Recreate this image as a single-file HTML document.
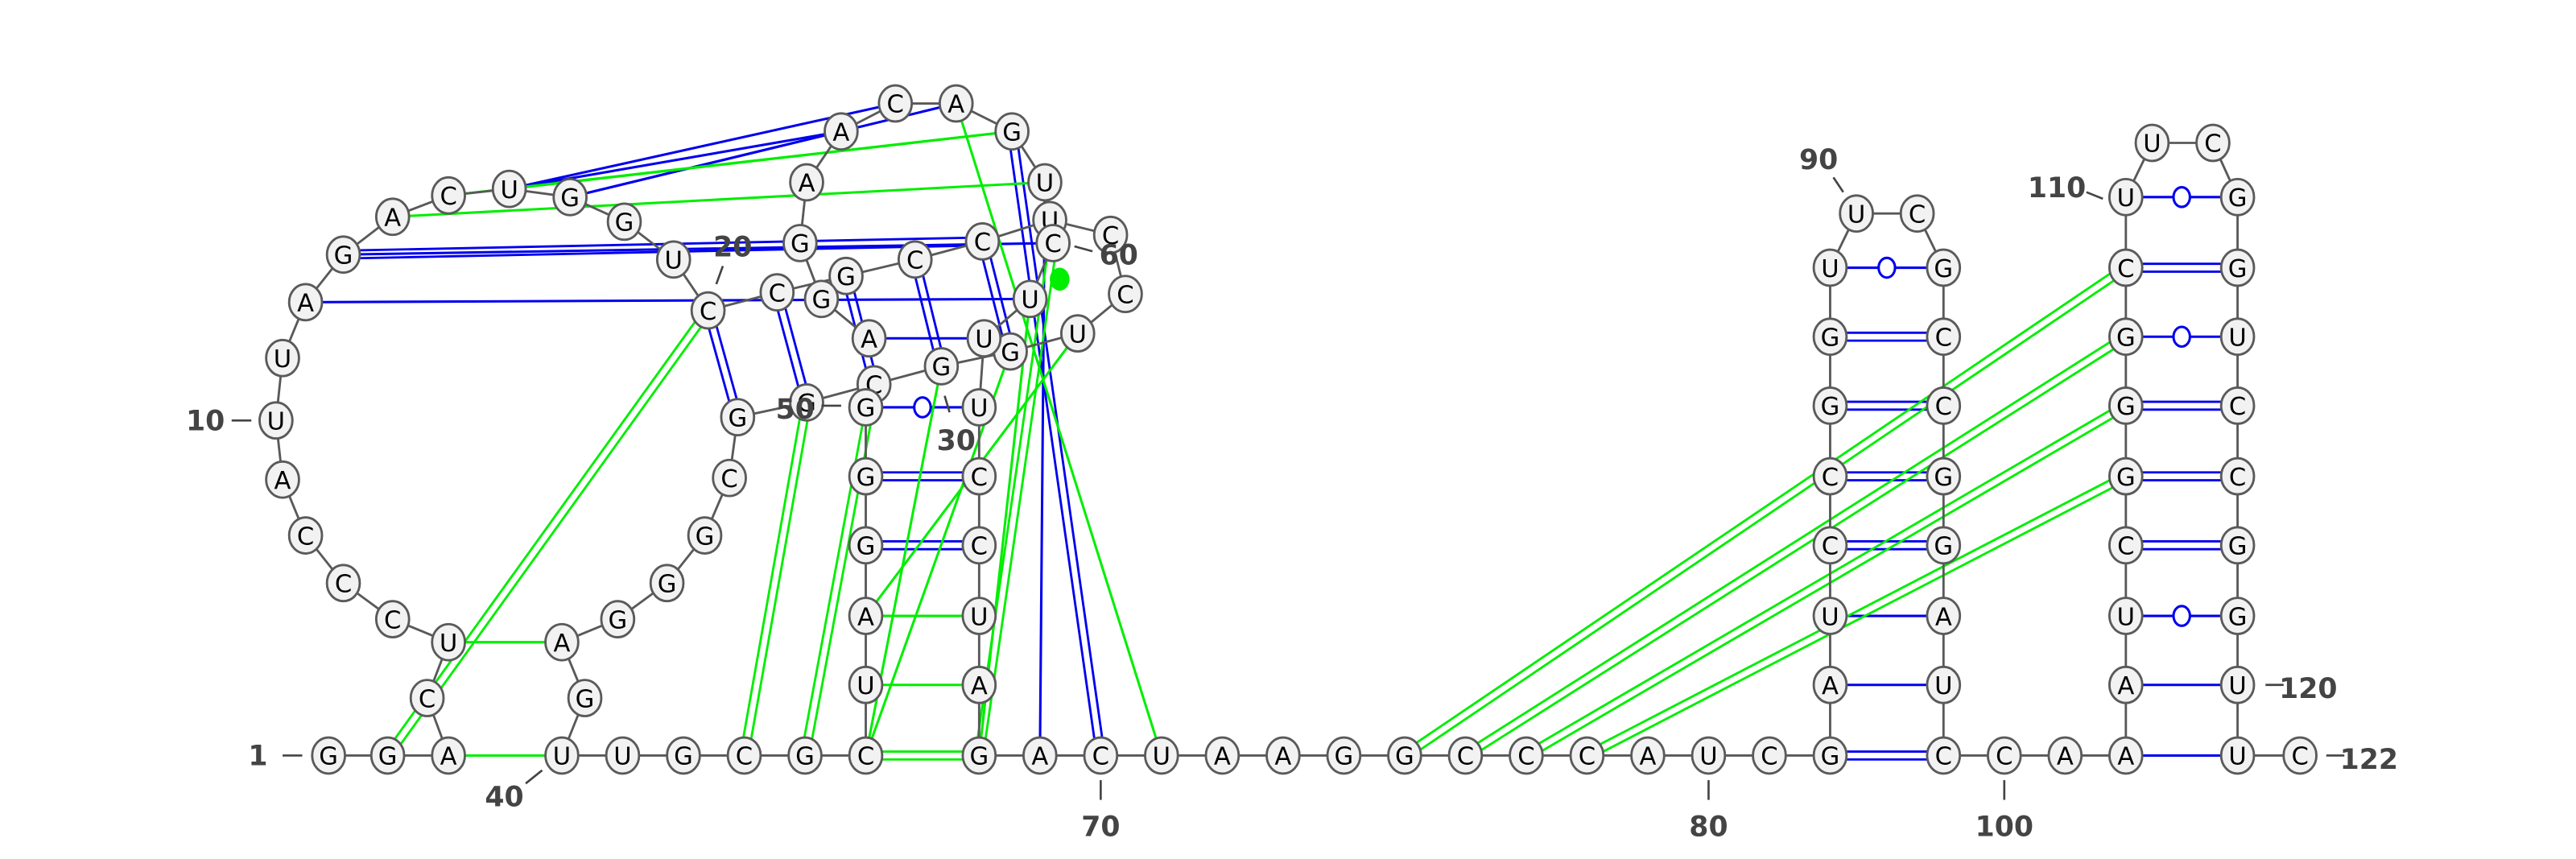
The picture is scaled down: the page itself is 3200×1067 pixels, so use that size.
<!DOCTYPE html>
<html><head><meta charset="utf-8"><style>
html,body{margin:0;padding:0;background:#fff;}
svg{display:block;}
</style></head><body>
<svg id="chart" width="3200" height="1067" viewBox="0 0 1568 523" preserveAspectRatio="none" xmlns="http://www.w3.org/2000/svg">
<g id="pairs"></g>
<g id="backbone"></g>
<g id="nodes"></g>
<g id="labels"></g>
</svg>
<script>
const nodes = [
["1","G",200,460],["2","G",236,460],["3","A",273,460],["40","U",342,460],["41","U",379,460],["42","G",416,460],["43","C",453,460],["44","G",490,460],["45","C",527,460],["68","G",596,460],["69","A",633,460],["70","C",670,460],["71","U",707,460],["72","A",744,460],["73","A",781,460],["74","G",818,460],["75","G",855,460],["76","C",892,460],["77","C",929,460],["78","C",966,460],["79","A",1003,460],["80","U",1040,460],["81","C",1077,460],["82","G",1114,460],["99","C",1183,460],["100","C",1220,460],["101","A",1257,460],["102","A",1294,460],["121","U",1362,460],["122","C",1400,460],
["4","C",260,425],["5","U",273,391],["6","C",239,377],["7","C",209,355],["8","C",186,326],["9","A",172,292],["10","U",168,256],["11","U",172,218],["12","A",186,184],["13","G",209,155],["14","A",239,132],["15","C",273,119],["16","U",310,115],["17","G",347,120],["18","G",380,135],["19","U",410,158],["20","C",431,189],
["39","G",356,425],["38","A",342,391],["37","G",376,377],["36","G",406,355],["35","G",429,326],["34","C",444,291],["33","G",449,254],["32","G",491,245],["31","C",532,234],["30","G",573,223],
["21","C",473,178],["22","G",515,168],["23","C",557,158],["24","C",598,147],["u2","U",639,134],["g1","G",487,148],["a1","A",491,111],["a2","A",512,80],["c1","C",545,63],["a3","A",582,63],["g2","G",616,80],["u1","U",636,111],["60","C",641,148],["c3","C",676,143],["c4","C",685,179],["u3","U",656,203],["g3","G",615,214],["u4","U",627,182],["u5","U",599,206],["g4","G",500,182],["a4","A",529,206],
["50","G",527,248],["49","G",527,290],["48","G",527,332],["47","A",527,375],["46","U",527,417],
["h1","U",596,248],["h2","C",596,290],["h3","C",596,332],["h4","U",596,375],["h5","A",596,417],
["83","A",1114,417],["84","U",1114,375],["85","C",1114,332],["86","C",1114,290],["87","G",1114,247],["88","G",1114,205],["89","U",1114,163],["90","U",1130,130],["91","C",1167,130],
["92","G",1183,163],["93","C",1183,205],["94","C",1183,247],["95","G",1183,290],["96","G",1183,332],["97","A",1183,375],["98","U",1183,417],
["103","A",1294,417],["104","U",1294,375],["105","C",1294,332],["106","G",1294,290],["107","G",1294,247],["108","G",1294,205],["109","C",1294,163],["110","U",1294,120],["111","U",1310,87],["112","C",1347,87],
["113","G",1362,120],["114","G",1362,163],["115","U",1362,205],["116","C",1362,247],["117","C",1362,290],["118","G",1362,332],["119","G",1362,375],["120","U",1362,417]
];
const backboneLinks = [
["1","2"],["2","3"],["40","41"],["41","42"],["42","43"],["43","44"],["44","45"],["68","69"],["69","70"],["70","71"],["71","72"],["72","73"],["73","74"],["74","75"],["75","76"],["76","77"],["77","78"],["78","79"],["79","80"],["80","81"],["81","82"],["99","100"],["100","101"],["101","102"],["121","122"],
["3","4"],["4","5"],["5","6"],["6","7"],["7","8"],["8","9"],["9","10"],["10","11"],["11","12"],["12","13"],["13","14"],["14","15"],["15","16"],["16","17"],["17","18"],["18","19"],["19","20"],["20","21"],
["40","39"],["39","38"],["38","37"],["37","36"],["36","35"],["35","34"],["34","33"],["33","32"],["32","31"],["31","30"],["30","g3"],
["45","46"],["46","47"],["47","48"],["48","49"],["49","50"],["68","h5"],["h5","h4"],["h4","h3"],["h3","h2"],["h2","h1"],["h1","u5"],["u5","u4"],["u4","60"],
["21","22"],["22","23"],["23","24"],["24","u2"],["g1","a1"],["a1","a2"],["a2","c1"],["c1","a3"],["a3","g2"],["g2","u1"],["u1","u2"],["u2","c3"],["c3","c4"],["c4","u3"],["u3","g3"],["g1","g4"],["g4","a4"],
["82","83"],["83","84"],["84","85"],["85","86"],["86","87"],["87","88"],["88","89"],["89","90"],["90","91"],["91","92"],["92","93"],["93","94"],["94","95"],["95","96"],["96","97"],["97","98"],["98","99"],
["102","103"],["103","104"],["104","105"],["105","106"],["106","107"],["107","108"],["108","109"],["109","110"],["110","111"],["111","112"],["112","113"],["113","114"],["114","115"],["115","116"],["116","117"],["117","118"],["118","119"],["119","120"],["120","121"]
];
const bluePairs = [
["102","121","s"],["103","120","s"],["104","119","w"],["105","118","d"],["106","117","d"],["107","116","d"],["108","115","w"],["109","114","d"],["110","113","w"],
["82","99","d"],["83","98","s"],["84","97","s"],["85","96","d"],["86","95","d"],["87","94","d"],["88","93","d"],["89","92","w"],
["48","h3","d"],["49","h2","d"],["50","h1","w"],["a4","u5","s"],["22","31","d"],["23","30","d"],["24","g3","d"],["21","32","d"],["20","33","d"],["12","u4","s"],["13","24","d"],["13","60","s"],
["16","c1","s"],["16","a2","s"],["17","a2","s"],["17","a3","s"],["g2","70","d"],["u1","69","s"]
];
const greenPairs = [
["75","109","d"],["76","108","d"],["77","107","d"],["78","106","d"],
["45","68","d"],["46","h5","s"],["47","h4","s"],["2","20","d"],["3","40","s"],["5","38","s"],["43","32","d"],["44","31","d"],["45","30","s"],["45","g3","s"],["47","u3","w"],["68","60","d"],["68","u4","s"],["a3","71","s"],["15","g2","s"],["16","g2","s"],["14","u1","s"]
];
const labelTexts = ["1","10","20","30","40","50","60","70","80","90","100","110","120","122"];
const labelPos = [[157,460,172,460,184,460],[125,256,141,256,153,256],[446,150,440,162,436,173],[582,268,575,241,578,251],[307,485,320,477,330,469],[484,249,500,247,512,247],[681,155,654,150,665,153],[670,503,670,475,670,487],[1040,503,1040,475,1040,487],[1107,97,1116,108,1122,117],[1220,503,1220,475,1220,487],[1252,114,1270,117,1280,121],[1405,419,1379,417,1390,417],[1442,462,1416,460,1427,460]];

const NS="http://www.w3.org/2000/svg";
const pos={}; nodes.forEach(n=>pos[n[0]]=[n[2],n[3]]);
function mk(tag,attrs,parent){const e=document.createElementNS(NS,tag);for(const k in attrs)e.setAttribute(k,attrs[k]);parent.appendChild(e);return e;}
const gP=document.getElementById('pairs'),gB=document.getElementById('backbone'),gN=document.getElementById('nodes'),gL=document.getElementById('labels');
function drawPair(p,color){
  const a=pos[p[0]],b=pos[p[1]];const dx=b[0]-a[0],dy=b[1]-a[1];const L=Math.hypot(dx,dy);const nx=-dy/L*2.4,ny=dx/L*2.4;
  if(p[2]==='d'){
    [1,-1].forEach(s=>{const l=mk('line',{x1:a[0]+nx*s,y1:a[1]+ny*s,x2:b[0]+nx*s,y2:b[1]+ny*s,stroke:color,'stroke-width':1.4},gP);
      
      });
  } else {
    const l=mk('line',{x1:a[0],y1:a[1],x2:b[0],y2:b[1],stroke:color,'stroke-width':1.5},gP);
    
    
    if(p[2]==='w'){const c=mk('ellipse',{cx:(a[0]+b[0])/2,cy:(a[1]+b[1])/2,rx:5,ry:6,fill:'#fff',stroke:color,'stroke-width':1.5},gP);
      
      }
  }
}
bluePairs.forEach(p=>drawPair(p,'#0000ee'));
greenPairs.forEach(p=>drawPair(p,'#00ee00'));
const dot=mk('ellipse',{cx:645,cy:170,rx:6,ry:7,fill:'#00ee00'},gP);


backboneLinks.forEach(l=>{const a=pos[l[0]],b=pos[l[1]];const e=mk('line',{x1:a[0],y1:a[1],x2:b[0],y2:b[1],stroke:'#595959','stroke-width':1.4},gB);
  
  });
nodes.forEach(n=>{const g=mk('g',{},gN);
  
  
  mk('ellipse',{cx:n[2],cy:n[3],rx:10,ry:11,fill:'#f2f2f2',stroke:'#5a5a5a','stroke-width':1.4},g);
  const t=mk('text',{x:n[2],y:n[3]+5.5,'text-anchor':'middle','font-family':'DejaVu Sans, Liberation Sans, sans-serif','font-size':15,fill:'#000'},g);
  t.textContent=n[1];});
labelTexts.forEach((s,i)=>{const p=labelPos[i];
  const tk=mk('line',{x1:p[2],y1:p[3],x2:p[4],y2:p[5],stroke:'#444','stroke-width':1.3},gL);
  
  
  const t=mk('text',{x:p[0],y:p[1]+6,'text-anchor':'middle','font-family':'DejaVu Sans, Liberation Sans, sans-serif','font-size':17,'font-weight':'bold',fill:'#444'},gL);
  
  
  t.textContent=s;});
</script>
</body></html>
